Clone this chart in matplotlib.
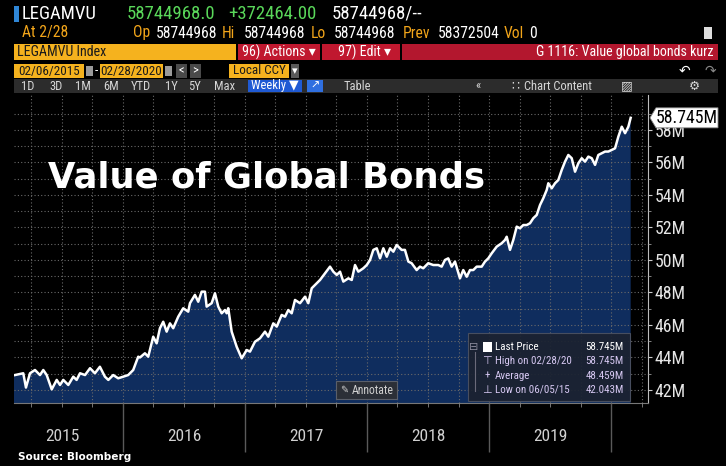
import matplotlib
matplotlib.use("Agg")
import matplotlib.pyplot as plt
from matplotlib import font_manager as fm
from matplotlib.patches import Rectangle, Polygon

# weekly close of LEGAMVU index, millions, decimal years
years = [2015.100, 2015.115, 2015.183, 2015.205, 2015.238, 2015.279, 2015.320, 2015.347,
         2015.375, 2015.416, 2015.457, 2015.484, 2015.511, 2015.552, 2015.593, 2015.620,
         2015.648, 2015.689, 2015.730, 2015.770, 2015.811, 2015.852, 2015.880, 2015.920,
         2015.961, 2016.002, 2016.043, 2016.084, 2016.125, 2016.139, 2016.180, 2016.207,
         2016.248, 2016.276, 2016.303, 2016.330, 2016.358, 2016.385, 2016.412, 2016.453,
         2016.494, 2016.535, 2016.549, 2016.590, 2016.617, 2016.645, 2016.672, 2016.686,
         2016.727, 2016.754, 2016.781, 2016.809, 2016.836, 2016.850, 2016.863, 2016.891,
         2016.932, 2016.973, 2017.014, 2017.041, 2017.082, 2017.123, 2017.164, 2017.191,
         2017.232, 2017.260, 2017.301, 2017.328, 2017.355, 2017.383, 2017.410, 2017.451,
         2017.492, 2017.519, 2017.547, 2017.574, 2017.615, 2017.656, 2017.697, 2017.724,
         2017.752, 2017.779, 2017.806, 2017.847, 2017.875, 2017.902, 2017.929, 2017.970,
         2017.998, 2018.025, 2018.052, 2018.080, 2018.107, 2018.134, 2018.162, 2018.189,
         2018.216, 2018.243, 2018.284, 2018.311, 2018.339, 2018.366, 2018.407, 2018.434,
         2018.461, 2018.502, 2018.543, 2018.584, 2018.612, 2018.639, 2018.666, 2018.694,
         2018.721, 2018.762, 2018.789, 2018.817, 2018.844, 2018.871, 2018.899, 2018.940,
         2018.967, 2018.994, 2019.022, 2019.063, 2019.104, 2019.131, 2019.145, 2019.172,
         2019.199, 2019.227, 2019.254, 2019.281, 2019.309, 2019.336, 2019.363, 2019.391,
         2019.418, 2019.445, 2019.473, 2019.486, 2019.514, 2019.541, 2019.568, 2019.596,
         2019.623, 2019.650, 2019.678, 2019.705, 2019.732, 2019.760, 2019.787, 2019.814,
         2019.842, 2019.869, 2019.896, 2019.924, 2019.951, 2019.978, 2020.006, 2020.033,
         2020.060, 2020.088, 2020.115, 2020.142, 2020.161]
values = [42.90, 42.92, 43.03, 42.15, 43.03, 43.23, 42.92, 43.23,
          42.92, 42.04, 42.62, 42.31, 42.62, 42.31, 42.82, 42.62,
          43.03, 42.92, 43.34, 43.03, 43.43, 42.82, 42.62, 42.92,
          42.72, 42.82, 42.92, 43.23, 44.05, 44.00, 44.26, 44.05,
          45.28, 44.87, 45.80, 46.20, 45.59, 46.10, 45.80, 46.51,
          47.03, 46.82, 47.34, 47.85, 47.43, 48.05, 48.05, 47.13,
          47.34, 47.95, 47.13, 46.72, 46.92, 46.72, 47.03, 45.59,
          44.66, 43.95, 44.46, 44.36, 44.97, 45.18, 45.59, 45.28,
          46.10, 45.90, 46.62, 46.51, 46.92, 46.72, 47.54, 47.34,
          47.74, 47.34, 48.26, 48.46, 48.77, 49.18, 49.59, 49.28,
          49.08, 49.28, 48.67, 48.87, 48.77, 49.69, 49.28, 49.49,
          49.69, 50.00, 50.62, 50.72, 50.10, 50.72, 50.20, 50.72,
          50.51, 50.92, 50.62, 50.62, 49.90, 49.80, 49.38, 49.59,
          49.49, 49.80, 49.69, 49.69, 49.59, 50.00, 50.10, 49.59,
          49.90, 48.87, 49.38, 48.97, 49.38, 49.38, 49.59, 49.59,
          49.90, 50.10, 50.41, 50.82, 51.03, 51.23, 51.43, 50.62,
          51.23, 52.05, 51.95, 52.15, 52.15, 52.26, 52.57, 52.77,
          53.38, 53.80, 54.31, 54.72, 54.41, 54.72, 54.92, 55.54,
          56.05, 56.46, 56.26, 55.43, 55.95, 56.26, 56.05, 56.36,
          56.26, 55.85, 56.46, 56.57, 56.67, 56.67, 56.77, 56.87,
          57.59, 58.20, 57.80, 58.20, 58.745]

year_labels = [2015, 2016, 2017, 2018, 2019]
ytick_vals = [42, 44, 46, 48, 50, 52, 54, 56, 58]
legend_rows = [("Last Price", "58.745M"), ("High on 02/28/20", "58.745M"),
               ("Average", "48.459M"), ("Low on 06/05/15", "42.043M")]
last_label = "58.745M"

W, H = 726, 466
names = {f.name for f in fm.fontManager.ttflist}
NARROW = "DejaVu Sans"
for n in ["Liberation Sans Narrow", "Roboto Condensed", "Noto Sans"]:
    if n in names:
        NARROW = n
        break
FAM = [NARROW, "DejaVu Sans"]

fig = plt.figure(figsize=(W / 100, H / 100), dpi=100, facecolor="black")
rend = fig.canvas.get_renderer()


def box(x0, y0, x1, y1, color, **kw):
    fig.patches.append(Rectangle((x0 / W, 1 - y1 / H), (x1 - x0) / W, (y1 - y0) / H,
                                 transform=fig.transFigure, facecolor=color,
                                 edgecolor=kw.pop("ec", "none"), **kw))


def txt(x, y, s, color="white", size=12, ha="left", va="center", **kw):
    kw.setdefault("family", FAM)
    return fig.text(x / W, 1 - y / H, s, color=color, fontsize=size, ha=ha, va=va, **kw)


def fit(s, width, size=12, cap=99, **kw):
    # font size that makes s about `width` pixels wide
    kw.setdefault("family", FAM)
    t = fig.text(0, 0, s, fontsize=size, **kw)
    w = t.get_window_extent(rend).width
    t.remove()
    return min(cap, size * width / w)


ORANGE = "#f2a51a"
GREEN = "#5ad85a"
AMBER = "#f5b21e"
RED = "#b3172e"

# header rows
s1 = fit("+372464.00", 88, cap=14)
box(14, 6, 19, 22, "#2f86d6")
txt(22, 14, "LEGAMVU", size=s1)
txt(127, 14, "58744968.0", GREEN, s1)
txt(228, 14, "+372464.00", GREEN, s1)
txt(332, 14, "58744968/--", size=s1)

s2 = fit("58744968", 62, cap=14)
txt(22, 33, "At 2/28", ORANGE, s2)
for x, s, c, ha in [(133, "Op", ORANGE, "left"), (217, "58744968", "white", "right"),
                    (222, "Hi", ORANGE, "left"), (305, "58744968", "white", "right"),
                    (311, "Lo", ORANGE, "left"), (395, "58744968", "white", "right"),
                    (403, "Prev", ORANGE, "left"), (500, "58372504", "white", "right"),
                    (504, "Vol", ORANGE, "left"), (537, "0", "white", "right")]:
    txt(x, 33, s, c, s2, ha=ha)
box(704, 27, 712, 39, "#dddddd")

s3 = fit("96) Actions \u25BE", 74, cap=13)
box(14, 44, 236, 60, AMBER)
txt(17, 52, "LEGAMVU Index", "#1a1a1a", s3)
box(238, 44, 320, 60, "#c0182f")
txt(242, 52, "96) Actions \u25BE", size=s3)
box(322, 44, 400, 60, "#c0182f")
txt(338, 52, "97) Edit \u25BE", size=s3)
box(402, 44, 718, 60, RED)
txt(714, 52, "G 1116: Value global bonds kurz", size=s3, ha="right")

s4 = fit("02/06/2015", 61, cap=12)
box(14, 64, 84, 78, AMBER)
txt(49, 71, "02/06/2015", "#1a1a1a", s4, ha="center")
box(86, 66, 93, 76, "#9a9a9a")
txt(96.5, 71, "-", size=s4, ha="center")
box(100, 64, 163, 78, AMBER)
txt(131.5, 71, "02/28/2020", "#1a1a1a", s4, ha="center")
box(165, 66, 172, 76, "#9a9a9a")
box(176, 64, 187, 78, "#4a4a4a")
txt(181.5, 71, "<", size=9, ha="center")
box(190, 64, 201, 78, "#4a4a4a")
txt(195.5, 71, ">", size=9, ha="center")
box(229, 64, 289, 78, AMBER)
txt(259, 71, "Local CCY", "#1a1a1a", s4, ha="center")
box(291, 64, 299, 78, "#5a5a5a")
txt(295, 71, "\u25BE", size=8, ha="center")
txt(684, 71, "\u21B6", size=10, ha="center")
txt(710, 71, "\u21B7", "#888888", 10, ha="center")

s5 = fit("Chart Content", 68, cap=10.5)
box(14, 79, 718, 93, "#2c2c2c")
for x, s in [(28, "1D"), (56, "3D"), (83, "1M"), (111, "6M"), (141, "YTD"), (171, "1Y"),
             (194, "5Y"), (225, "Max"), (357, "Table"), (478, "\u00AB"), (558, "Chart Content"),
             (627, "\u25A8"), (694, "\u2699")]:
    txt(x, 86, s, "#d6d6d6", s5, ha="center")
txt(515, 86, "\u2237", "#d6d6d6", s5, ha="center")
box(248, 80, 302, 92, "#1f5ad4")
txt(275, 86, "Weekly \u25BC", size=s5, ha="center")
box(307, 80, 323, 92, "#2f6fe0")
txt(315, 86, "\u2197", size=8, ha="center")

# chart
ax = fig.add_axes([14 / W, (H - 403) / H, (648 - 14) / W, (403 - 95) / H])
ax.set_facecolor("black")
ax.fill_between(years, values, 0, color="#0f2d5e", zorder=1, lw=0)
ax.plot(years, values, color="white", lw=1.8, zorder=3)

ax.set_xticks(year_labels[1:] + [2020])
ax.set_xticks([y + q for y in range(2015, 2021) for q in (0.25, 0.5, 0.75)], minor=True)
ax.set_yticks(ytick_vals)
ax.set_yticks(list(range(43, 61, 2)), minor=True)
ax.set_xlim(2015.107, 2020.303)
ax.set_ylim(41.2, 60.15)
ax.grid(which="both", color="#6a6a6a", linestyle=(0, (1, 2)), linewidth=0.8, zorder=2)
ax.set_axisbelow(False)

sy = fit("56M", 31, cap=13)
ax.yaxis.tick_right()
ax.set_yticklabels([f"{v}M" for v in ytick_vals])
ax.tick_params(axis="y", which="major", length=3, color="#cccccc", labelcolor="#e6e6e6",
               labelsize=sy, pad=2)
ax.tick_params(axis="y", which="minor", length=2, color="#999999")
ax.tick_params(axis="x", which="major", length=35, color="#5a5a5a", width=1, labelbottom=False)
ax.tick_params(axis="x", which="minor", length=3, color="#888888")
for lab in ax.get_yticklabels():
    lab.set_family(FAM)
for s in ["left", "top"]:
    ax.spines[s].set_visible(False)
ax.spines["right"].set_color("#bdbdbd")
ax.spines["bottom"].set_color("#777777")

sx = fit("2015", 34, cap=14)
for yr in year_labels:
    ax.text(yr + 0.5, -0.11, str(yr), transform=ax.get_xaxis_transform(), ha="center",
            va="center", color="#d0d0d0", fontsize=sx, family=FAM)

txt(48, 188, "Value of Global Bonds", size=25.5, va="baseline", weight="bold",
    family="DejaVu Sans")
txt(18, 457, "Source: Bloomberg", size=7.6, weight="bold", family="DejaVu Sans")

# annotate button
box(336, 381, 397, 399, "#2b2f37", ec="#5a5f6a", lw=0.8)
sa = fit("Annotate", 42, cap=10)
txt(344, 390, "\u270E", "#cfcfcf", 7, ha="center")
txt(352, 390, "Annotate", "#cfcfcf", sa)

# legend panel
box(468, 333, 630, 401, "#1b2230", ec="#4c5262", lw=0.8, alpha=0.92)
LAV = "#d6c8f2"
sl = fit("High on 02/28/20", 76, cap=11)
txt(474, 347, "\u229F", "#8a8a9a", 8, ha="center")
fig.lines.append(plt.Line2D([475 / W, 475 / W], [1 - 352 / H, 1 - 391 / H],
                            transform=fig.transFigure, color="#6a6a7a", lw=0.8))
box(483, 342, 492, 352, "white")
icons = [None, "\u22A4", "+", "\u22A5"]
for i, (lab, val) in enumerate(legend_rows):
    y = 347 + i * 14.3
    col = "white" if i == 0 else LAV
    if icons[i]:
        txt(487, y, icons[i], LAV, 8, ha="center")
    txt(495, y, lab, col, sl)
    txt(624, y, val, col, sl, ha="right")

# last price tag on the right axis (covers the 58M label like the terminal does)
fig.canvas.draw()
ty = H - ax.transData.transform((years[-1], values[-1]))[1]
fig.patches.append(Polygon([(650 / W, 1 - ty / H), (656 / W, 1 - (ty - 10) / H),
                            (718 / W, 1 - (ty - 10) / H), (718 / W, 1 - (ty + 10) / H),
                            (656 / W, 1 - (ty + 10) / H)], closed=True,
                           transform=fig.transFigure, facecolor="white", edgecolor="#888888",
                           lw=0.6, zorder=5))
fig.text(687 / W, 1 - ty / H, last_label, color="black", fontsize=sy, ha="center",
         va="center", family=FAM, zorder=6)

fig.savefig("out.png", dpi=100, facecolor="black")
